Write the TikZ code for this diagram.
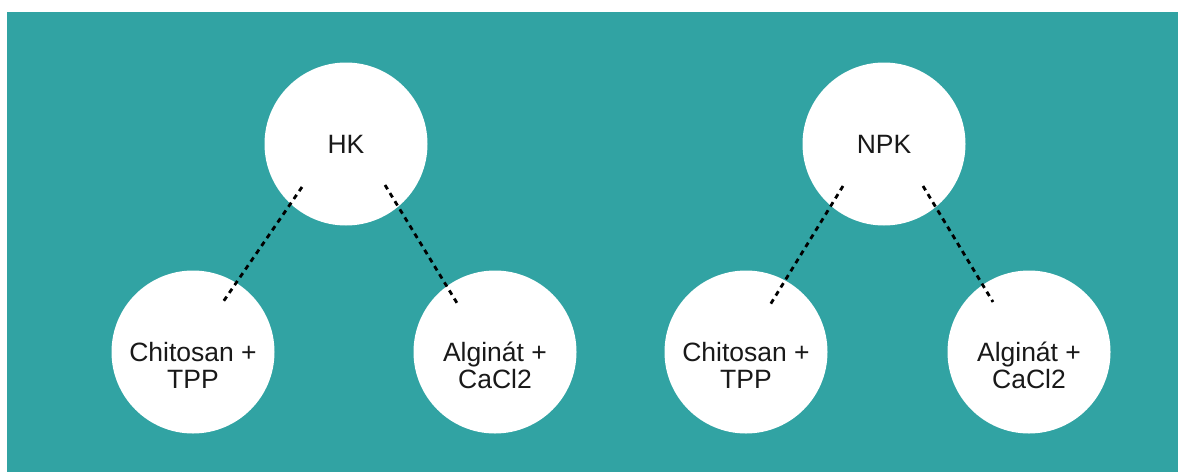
\documentclass[tikz,border=0pt]{standalone}
\usepackage{fontspec}
\setmainfont{Liberation Sans}
\definecolor{teal1}{RGB}{49,163,163}
\begin{document}
\begin{tikzpicture}[x=1pt,y=-1pt,
  bubble/.style={circle,fill=white,minimum size=163pt,inner sep=0pt},
  lbl/.style={align=center,inner sep=0pt,font=\fontsize{26.5}{27}\selectfont,text=black!90},
  link/.style={line width=2.8pt,dash pattern=on 5pt off 4.5pt,black}]
\useasboundingbox (0,0) rectangle (1178,472);
\fill[teal1] (7,12) rectangle (1178,472);
% left tree
\node[bubble] (hk) at (346,144) {};
\node[bubble] (ct1) at (193,352) {};
\node[bubble] (ac1) at (495,352) {};
\node[lbl] (thk) at (hk) {HK};
\node[lbl,yshift=-13.5pt] (tct1) at (ct1) {Chitosan +\\TPP};
\node[lbl,yshift=-13.5pt] (tac1) at (ac1) {Alginát +\\CaCl2};
% right tree
\node[bubble] (npk) at (884,144) {};
\node[bubble] (ct2) at (746,352) {};
\node[bubble] (ac2) at (1029,352) {};
\node[lbl] (tnpk) at (npk) {NPK};
\node[lbl,yshift=-13.5pt] (tct2) at (ct2) {Chitosan +\\TPP};
\node[lbl,yshift=-13.5pt] (tac2) at (ac2) {Alginát +\\CaCl2};
% dashed connectors
\coordinate (a1) at (302,187); \coordinate (a2) at (223,302);
\coordinate (b1) at (385,185); \coordinate (b2) at (457,303);
\coordinate (c1) at (843,186); \coordinate (c2) at (770,305);
\coordinate (d1) at (923,186); \coordinate (d2) at (993,302);
\draw[link] (a1) -- (a2);
\draw[link] (b1) -- (b2);
\draw[link] (c1) -- (c2);
\draw[link] (d1) -- (d2);
\end{tikzpicture}
\end{document}
